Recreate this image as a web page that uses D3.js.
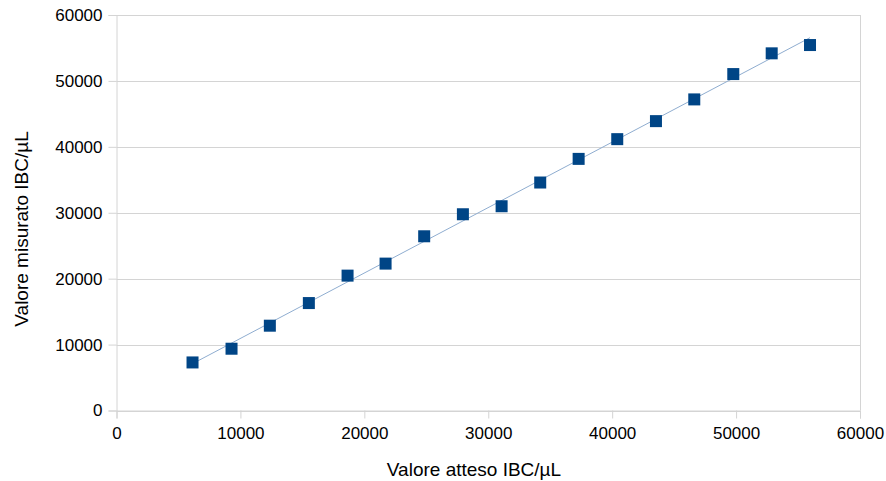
<!DOCTYPE html>
<html>
<head>
<meta charset="utf-8">
<script src="https://cdn.jsdelivr.net/npm/d3@7"></script>
<style>
  html, body { margin: 0; padding: 0; background: #fff; }
  svg { display: block; font-family: "Liberation Sans", Arial, sans-serif; }
</style>
</head>
<body>
<svg id="chart" width="886" height="481"></svg>
<script>
// Data
const expected = [6135, 9283, 12375, 15523, 18647, 21714, 24830, 27954, 31078, 34194, 37294, 40410, 43534, 46626, 49774, 52874, 55966];
const measured = [7291, 9372, 12866, 16299, 20461, 22284, 26430, 29772, 30987, 34587, 38172, 41165, 43899, 47195, 51038, 54184, 55443];
const xTicks = [0, 10000, 20000, 30000, 40000, 50000, 60000];
const yTicks = [0, 10000, 20000, 30000, 40000, 50000, 60000];
const xTitle = "Valore atteso IBC/µL";
const yTitle = "Valore misurato IBC/µL";

const svg = d3.select("#chart");
const plotLeft = 116.5, plotRight = 860, plotTop = 15, plotBottom = 410.5;

const x = d3.scaleLinear().domain([0, 60000]).range([plotLeft, plotRight]);
const y = d3.scaleLinear().domain([0, 60000]).range([plotBottom, plotTop]);

const gridColor = "#d4d4d4";

// horizontal gridlines
svg.append("g").selectAll("line").data(yTicks).join("line")
  .attr("x1", plotLeft).attr("x2", plotRight)
  .attr("y1", d => Math.round(y(d)) + 0.5).attr("y2", d => Math.round(y(d)) + 0.5)
  .attr("stroke", gridColor).attr("stroke-width", 1);

// right border
svg.append("line").attr("x1", plotRight + 0.5).attr("x2", plotRight + 0.5)
  .attr("y1", plotTop).attr("y2", plotBottom).attr("stroke", gridColor);

// Y axis
const yAxis = d3.axisLeft(y).tickValues(yTicks).tickSize(8).tickPadding(6).tickFormat(d3.format("d"));
const gy = svg.append("g").attr("transform", `translate(${plotLeft},0)`).call(yAxis);
gy.select(".domain").attr("stroke", gridColor);
gy.selectAll(".tick line").attr("stroke", gridColor);
gy.selectAll(".tick text").attr("font-size", 17).attr("fill", "#000")
  .attr("font-family", "Liberation Sans, Arial, sans-serif");

// X axis
const xAxis = d3.axisBottom(x).tickValues(xTicks).tickSize(8).tickPadding(8).tickFormat(d3.format("d"));
const gx = svg.append("g").attr("transform", `translate(0,${plotBottom})`).call(xAxis);
gx.select(".domain").attr("stroke", gridColor);
gx.selectAll(".tick line").attr("stroke", gridColor);
gx.selectAll(".tick text").attr("font-size", 17).attr("fill", "#000")
  .attr("font-family", "Liberation Sans, Arial, sans-serif");

// Linear trend line (least squares over the data)
const n = expected.length;
const mx = d3.mean(expected), my = d3.mean(measured);
let sxy = 0, sxx = 0;
for (let i = 0; i < n; i++) { sxy += (expected[i] - mx) * (measured[i] - my); sxx += (expected[i] - mx) ** 2; }
const slope = sxy / sxx, intercept = my - slope * mx;
const x0 = d3.min(expected), x1 = d3.max(expected);
svg.append("line")
  .attr("x1", x(x0)).attr("y1", y(intercept + slope * x0))
  .attr("x2", x(x1)).attr("y2", y(intercept + slope * x1))
  .attr("stroke", "#8fadd0").attr("stroke-width", 1);

// Markers
const s = 12;
svg.append("g").selectAll("rect").data(expected.map((e, i) => [e, measured[i]])).join("rect")
  .attr("x", d => x(d[0]) - s / 2).attr("y", d => y(d[1]) - s / 2)
  .attr("width", s).attr("height", s).attr("fill", "#004586");

// Axis titles
svg.append("text").attr("x", 474).attr("y", 476).attr("text-anchor", "middle")
  .attr("font-size", 19).attr("fill", "#000").text(xTitle);
svg.append("text").attr("transform", "translate(28,229) rotate(-90)").attr("text-anchor", "middle")
  .attr("font-size", 19).attr("fill", "#000").text(yTitle);
</script>
</body>
</html>
